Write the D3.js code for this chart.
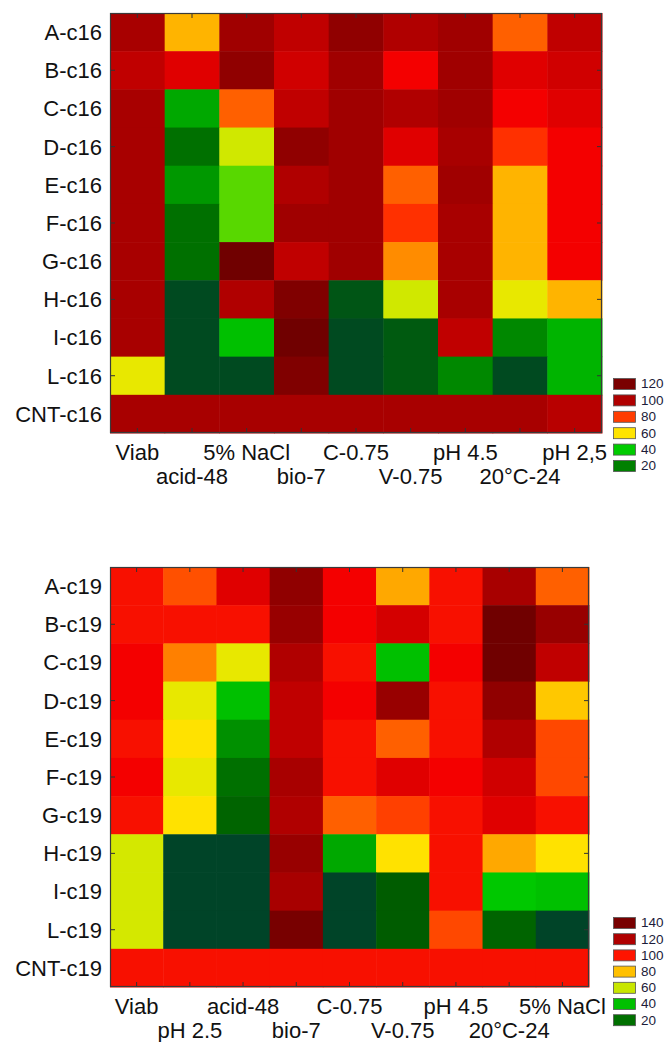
<!DOCTYPE html>
<html>
<head>
<meta charset="utf-8">
<script src="https://cdn.jsdelivr.net/npm/d3@7"></script>
<style>
  body { margin: 0; background: #fff; }
  text { font-family: "Liberation Sans", Arial, sans-serif; fill: #111; }
</style>
</head>
<body>
<svg id="chart" width="665" height="1042"></svg>
<script>
// ---- C16 panel ----
const strainsC16 = ["A-c16", "B-c16", "C-c16", "D-c16", "E-c16", "F-c16", "G-c16", "H-c16", "I-c16", "L-c16", "CNT-c16"];
const testsC16 = ["Viab", "acid-48", "5% NaCl", "bio-7", "C-0.75", "V-0.75", "pH 4.5", "20°C-24", "pH 2,5"];
const valuesC16 = [
  [110, 65, 115, 100, 120, 105, 115, 75, 100],
  [100, 90, 120, 95, 115, 85, 115, 90, 95],
  [110, 36, 75, 100, 115, 105, 115, 85, 90],
  [110, 20, 55, 120, 115, 90, 110, 80, 85],
  [110, 33, 50, 105, 115, 75, 115, 65, 85],
  [110, 20, 50, 115, 115, 80, 110, 65, 85],
  [110, 20, 130, 100, 115, 70, 110, 65, 85],
  [110, 5, 105, 125, 10, 55, 110, 60, 65],
  [110, 5, 40, 130, 5, 12, 100, 30, 38],
  [60, 5, 5, 125, 5, 12, 30, 5, 38],
  [110, 110, 110, 110, 110, 110, 110, 110, 103]
];
const colorDomainC16 = [5, 12, 20, 30, 33, 36, 40, 50, 55, 60, 65, 70, 75, 80, 85, 90, 95, 100, 103, 105, 110, 115, 120, 125, 130];
const colorRangeC16 = ["#004a20", "#005a10", "#007000", "#008800", "#009800", "#00a800", "#00c000", "#58d800", "#d0e800", "#e8e800",
  "#ffb400", "#ff8c00", "#ff6000", "#ff3000", "#f40000", "#e00000", "#d00000", "#c00000", "#b80000", "#b00000",
  "#a80000", "#a00000", "#900000", "#800000", "#700000"];
const legendLabelsC16 = ["120", "100", "80", "60", "40", "20"];
const legendColorsC16 = ["#7a0000", "#b00000", "#ff3c00", "#ffe400", "#00cc00", "#008000"];

// ---- C19 panel ----
const strainsC19 = ["A-c19", "B-c19", "C-c19", "D-c19", "E-c19", "F-c19", "G-c19", "H-c19", "I-c19", "L-c19", "CNT-c19"];
const testsC19 = ["Viab", "pH 2.5", "acid-48", "bio-7", "C-0.75", "V-0.75", "pH 4.5", "20°C-24", "5% NaCl"];
const valuesC19 = [
  [100, 93, 110, 135, 105, 82, 100, 128, 90],
  [100, 100, 100, 132, 105, 113, 100, 142, 132],
  [105, 86, 65, 125, 100, 40, 105, 142, 120],
  [105, 65, 40, 120, 105, 132, 100, 135, 78],
  [100, 70, 30, 120, 100, 90, 100, 125, 95],
  [105, 65, 20, 128, 100, 110, 105, 115, 95],
  [100, 70, 15, 125, 90, 97, 100, 110, 100],
  [60, 5, 5, 132, 35, 70, 100, 82, 70],
  [60, 5, 5, 128, 5, 12, 100, 42, 40],
  [60, 5, 5, 140, 5, 12, 95, 15, 5],
  [100, 100, 100, 100, 100, 100, 100, 100, 100]
];
const colorDomainC19 = [5, 12, 15, 20, 30, 35, 40, 42, 60, 65, 70, 78, 82, 86, 90, 93, 95, 97, 100, 105, 110, 113, 115, 120, 125, 128, 132, 135, 140, 142];
const colorRangeC19 = ["#004428", "#005c00", "#006400", "#007000", "#009000", "#00a800", "#00c000", "#00c800", "#d4e800", "#e8e800",
  "#ffe200", "#ffc800", "#ffa800", "#ff8000", "#ff6000", "#ff5000", "#ff4800", "#ff4000", "#f81000", "#f40000",
  "#e00000", "#d40000", "#d00000", "#c00000", "#b00000", "#a80000", "#980000", "#900000", "#780000", "#700000"];
const legendLabelsC19 = ["140", "120", "100", "80", "60", "40", "20"];
const legendColorsC19 = ["#780000", "#b00000", "#ff1400", "#ffc000", "#c8e600", "#00c000", "#007000"];

const svg = d3.select("#chart");

function drawPanel(cfg) {
  const g = svg.append("g");
  const x = d3.scaleBand().domain(cfg.cols).range([cfg.x0, cfg.x1]).padding(0);
  const y = d3.scaleBand().domain(cfg.rows).range([cfg.y0, cfg.y1]).padding(0);
  const color = d3.scaleLinear().domain(cfg.colorDomain).range(cfg.colorRange).clamp(true);

  const cells = [];
  cfg.values.forEach((row, i) => row.forEach((v, j) => cells.push({ r: cfg.rows[i], c: cfg.cols[j], v })));

  g.selectAll("rect.cell").data(cells).join("rect")
    .attr("class", "cell")
    .attr("x", d => x(d.c))
    .attr("y", d => y(d.r))
    .attr("width", x.bandwidth() + 0.5)
    .attr("height", y.bandwidth() + 0.5)
    .attr("fill", d => color(d.v));

  // frame
  g.append("rect")
    .attr("x", cfg.x0 + 0.5).attr("y", cfg.y0 + 0.5)
    .attr("width", cfg.x1 - cfg.x0 - 1).attr("height", cfg.y1 - cfg.y0 - 1)
    .attr("fill", "none").attr("stroke", "#3a3a3a").attr("stroke-width", 1.2);

  // inside ticks on all four sides
  const tickAxes = [
    [d3.axisBottom(x), `translate(0,${cfg.y1 - 1})`],
    [d3.axisTop(x), `translate(0,${cfg.y0 + 1})`]
  ];
  tickAxes.forEach(([ax, tr]) => {
    const a = g.append("g").attr("transform", tr)
      .call(ax.tickSize(-4).tickFormat(""));
    a.select(".domain").remove();
    a.selectAll("line").attr("stroke", "#333");
  });
  const oddRows = cfg.rows.filter((_, i) => i % 2 === 1);
  [[d3.axisLeft(y), `translate(${cfg.x0 + 1},0)`], [d3.axisRight(y), `translate(${cfg.x1 - 1},0)`]].forEach(([ax, tr]) => {
    const a = g.append("g").attr("transform", tr)
      .call(ax.tickValues(oddRows).tickSize(-4).tickFormat(""));
    a.select(".domain").remove();
    a.selectAll("line").attr("stroke", "#333");
  });

  // row labels
  g.selectAll("text.row").data(cfg.rows).join("text")
    .attr("class", "row")
    .attr("x", cfg.x0 - 8)
    .attr("y", d => y(d) + y.bandwidth() / 2)
    .attr("dy", "0.36em")
    .attr("text-anchor", "end")
    .style("font-size", "22px")
    .text(d => d);

  // column labels, staggered on two lines
  g.selectAll("text.col").data(cfg.cols).join("text")
    .attr("class", "col")
    .attr("x", d => x(d) + x.bandwidth() / 2)
    .attr("y", (d, i) => cfg.y1 + (i % 2 === 0 ? 27 : 51))
    .attr("text-anchor", "middle")
    .style("font-size", "22px")
    .text(d => d);

  // legend
  const lg = g.append("g");
  cfg.legendLabels.forEach((lab, i) => {
    const yy = cfg.legendY + i * cfg.legendStep;
    lg.append("rect")
      .attr("x", 613.5).attr("y", yy + 0.5)
      .attr("width", 22).attr("height", 11)
      .attr("fill", cfg.legendColors[i])
      .attr("stroke", "#555").attr("stroke-width", 0.8);
    lg.append("text")
      .attr("x", 641).attr("y", yy + 5.5).attr("dy", "0.36em")
      .style("font-size", "13.5px").style("fill", "#1c1c3a")
      .text(lab);
  });
}

drawPanel({
  rows: strainsC16, cols: testsC16, values: valuesC16,
  colorDomain: colorDomainC16, colorRange: colorRangeC16,
  x0: 110, x1: 602, y0: 13, y1: 433,
  legendLabels: legendLabelsC16, legendColors: legendColorsC16, legendY: 378, legendStep: 16.4
});

drawPanel({
  rows: strainsC19, cols: testsC19, values: valuesC19,
  colorDomain: colorDomainC19, colorRange: colorRangeC19,
  x0: 110, x1: 589, y0: 567, y1: 987,
  legendLabels: legendLabelsC19, legendColors: legendColorsC19, legendY: 917, legendStep: 16.2
});
</script>
</body>
</html>
